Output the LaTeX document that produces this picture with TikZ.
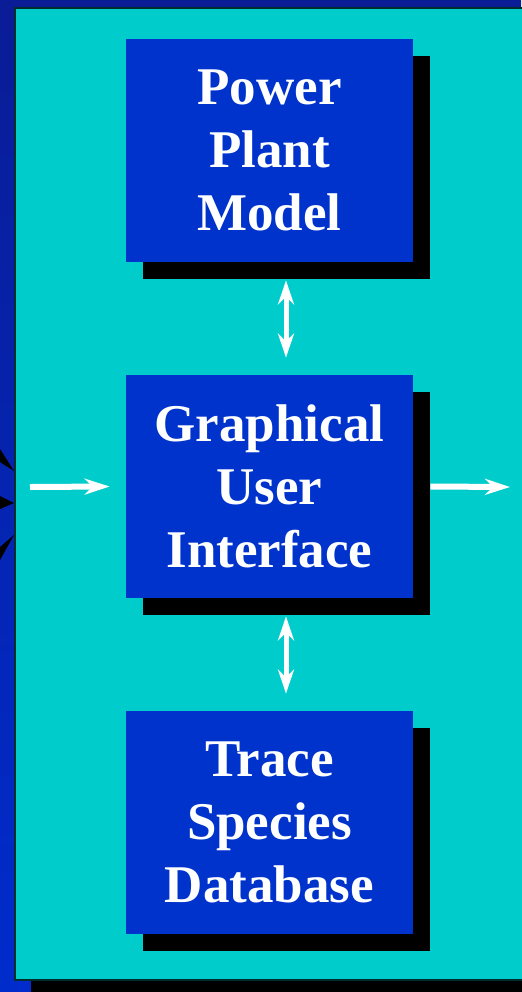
\documentclass[tikz,border=0pt]{standalone}
\usepackage{fontspec}
\setmainfont{Liberation Serif}
\usetikzlibrary{arrows.meta}

\definecolor{panel}{RGB}{0,204,204}
\definecolor{boxblue}{RGB}{0,51,204}
\definecolor{deepblue}{RGB}{10,28,150}
\definecolor{lowblue}{RGB}{0,44,204}
\definecolor{rim}{RGB}{0,45,45}

\tikzset{
  block/.style={fill=boxblue, text=white, align=center, minimum width=143.5pt, minimum height=111.5pt,
    inner sep=0pt, font=\fontsize{26.5}{31.5}\selectfont\bfseries},
  flow/.style={draw=white, line width=3pt, -{Stealth[length=12.5pt, width=8pt]}},
  link/.style={draw=white, line width=2.5pt, {Stealth[length=12pt, width=8pt]}-{Stealth[length=12pt, width=8pt]}}
}

\begin{document}
\begin{tikzpicture}[x=0.5pt, y=-0.5pt]
  \useasboundingbox (0,0) rectangle (521,992);
  % backdrop and panel
  \shade[top color=deepblue, bottom color=lowblue] (0,0) rectangle (521,992);
  \fill[black] (31,24) rectangle (560,1000);
  \filldraw[fill=panel, draw=rim, line width=1pt] (15,8) rectangle (560,980);
  % incoming heads on the left rim
  \fill[black] (0,449) -- (0,462) -- (14,471) -- cycle;
  \fill[black] (0,496) -- (0,509) -- (14,503) -- cycle;
  \fill[black] (0,547) -- (0,560) -- (14,535) -- cycle;

  % the three blocks, each with a hard black shadow
  \fill[black] (143,56) rectangle (430,279);
  \fill[black] (143,392) rectangle (430,615);
  \fill[black] (143,728) rectangle (430,951);
  \node[block] (plant) at (269.5,150.5) {Power\\Plant\\Model};
  \node[block] (gui) at (269.5,486.5) {Graphical\\User\\Interface};
  \node[block] (trace) at (269.5,822.5) {Trace\\Species\\Database};

  \coordinate (in) at (30,487);
  \coordinate (out) at (510,487);
  \draw[flow] (in) -- ([xshift=-8pt]gui.west);
  \draw[flow] ([xshift=8.5pt]gui.east) -- (out);
  \draw[link] ([shift={(16.5,18)}]plant.south) -- ([shift={(16.5,-17)}]gui.north);
  \draw[link] ([shift={(16.5,18)}]gui.south) -- ([shift={(16.5,-17)}]trace.north);
\end{tikzpicture}
\end{document}
